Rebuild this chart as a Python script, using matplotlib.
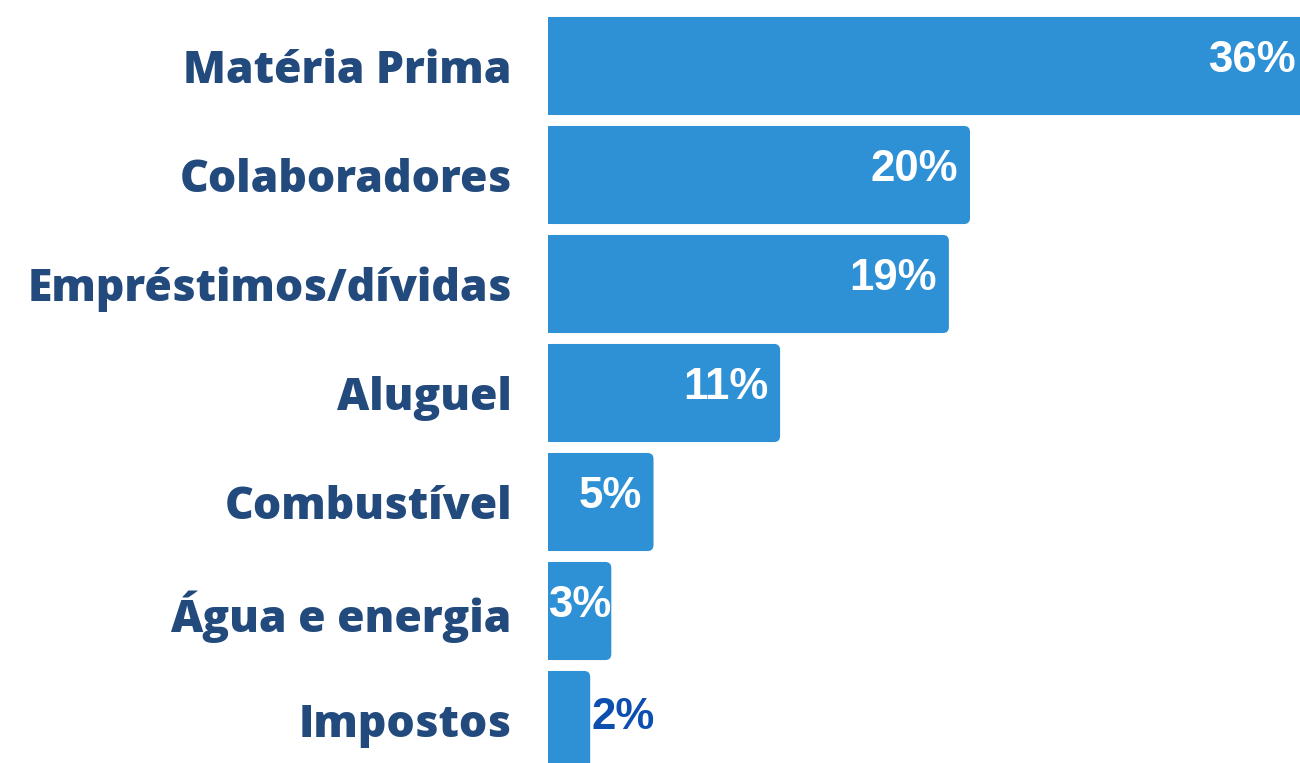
#!/usr/bin/env python3
"""Horizontal bar chart of cost shares."""

import matplotlib.pyplot as plt
from matplotlib.patches import FancyBboxPatch, Rectangle
from matplotlib.transforms import offset_copy

categories = ["Matéria Prima", "Colaboradores", "Empréstimos/dívidas", "Aluguel",
              "Combustível", "Água e energia", "Impostos"]
values = [36, 20, 19, 11, 5, 3, 2]

BAR_COLOR = "#2E91D6"
LABEL_COLOR = "#224A7D"
OUTSIDE_COLOR = "#0D4FB0"


def main():
    fig = plt.figure(figsize=(13, 7.63), dpi=100)
    ax = fig.add_axes([548 / 1300, 0, 1 - 548 / 1300, 1])

    x_max = 752 / 21.1
    ax.set_xlim(0, x_max)
    ax.set_ylim(6 + 43 / 109, -66 / 109)

    # rounding radius in data units (about 6 px)
    rx = 6 / 21.1
    ry = 6 / 109
    h = 0.9
    for i, v in enumerate(values):
        box = FancyBboxPatch((0, i - h / 2), v, h,
                             boxstyle=f"round,pad=0,rounding_size={rx}",
                             mutation_aspect=ry / rx,
                             facecolor=BAR_COLOR, edgecolor="none")
        ax.add_patch(box)
        # square off the left end
        ax.add_patch(Rectangle((0, i - h / 2), v / 2, h,
                               facecolor=BAR_COLOR, edgecolor="none"))

    # value labels
    for i, v in enumerate(values):
        label = f"{v}%"
        kw = dict(fontsize=31.5, fontweight="bold", family="Liberation Sans",
                  va="center")
        if v <= 2:
            tr = offset_copy(ax.transData, fig=fig, x=1, y=3, units="dots")
            ax.text(v, i, label, color=OUTSIDE_COLOR, ha="left", transform=tr, **kw)
        elif v <= 3:
            tr = offset_copy(ax.transData, fig=fig, x=0, y=6, units="dots")
            ax.text(0, i, label, color="white", ha="left", transform=tr, **kw)
        else:
            tr = offset_copy(ax.transData, fig=fig, x=-12, y=6, units="dots")
            ax.text(v, i, label, color="white", ha="right", transform=tr, **kw)

    ax.set_yticks(range(len(categories)))
    ax.set_yticklabels(categories, fontsize=32, fontweight="heavy",
                       family="Open Sans", color=LABEL_COLOR)
    ax.tick_params(axis="y", length=0, pad=26)
    ax.set_xticks([])
    for s in ax.spines.values():
        s.set_visible(False)

    fig.savefig("out.png", dpi=100)


if __name__ == "__main__":
    main()
